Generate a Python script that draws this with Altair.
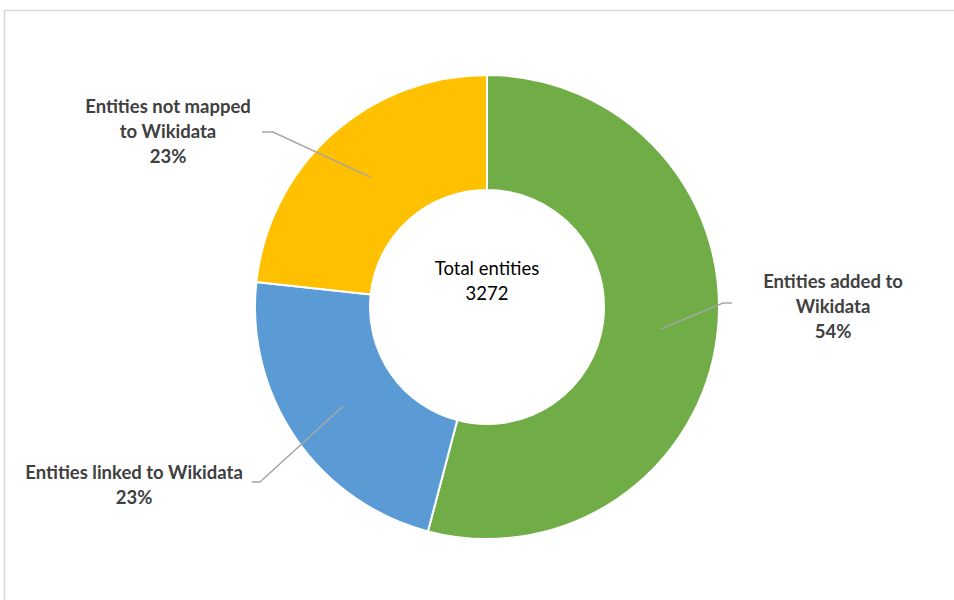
import math
import altair as alt
import pandas as pd

# ---- data ----
categories = ["Entities added to Wikidata", "Entities linked to Wikidata", "Entities not mapped to Wikidata"]
counts = [1770, 740, 762]
colors = ["#70ad47", "#5b9bd5", "#ffc000"]
label_names = ["Entities added to\nWikidata", "Entities linked to Wikidata", "Entities not mapped\nto Wikidata"]
center_title = "Total entities"

# ---- layout ----
W, H = 954, 600
CX, CY = 487, 307
R_IN, R_OUT = 117, 232
label_xy = [(833, 282), (134, 473), (168, 107)]   # first-line centre of each label
leader_end = [(732, 303), (252, 482), (262, 132)]
leader_bend = [(723, 303), (260, 482), (273, 132)]

total = sum(counts)
pcts = [f"{round(100 * c / total)}%" for c in counts]

arc_df = pd.DataFrame({"cat": categories, "value": counts, "idx": list(range(len(categories)))})

# leader lines: start at the middle of each slice
rows = []
cum = 0
r_mid = (R_IN + R_OUT) / 2
for i, c in enumerate(counts):
    mid = (cum + c / 2) / total * 2 * math.pi
    cum += c
    sx = CX + r_mid * math.sin(mid)
    sy = CY - r_mid * math.cos(mid)
    pts = [(sx, sy), leader_bend[i], leader_end[i]]
    for j, (px, py) in enumerate(pts):
        rows.append({"cat": categories[i], "seq": j, "x": px, "y": py})
lead_df = pd.DataFrame(rows)

lab_df = pd.DataFrame({
    "cat": categories,
    "label": [f"{n}\n{p}" for n, p in zip(label_names, pcts)],
    "x": [p[0] for p in label_xy],
    "y": [p[1] for p in label_xy],
})
center_df = pd.DataFrame({"label": [f"{center_title}\n{total}"], "x": [CX], "y": [269]})

arcs = alt.Chart(arc_df).mark_arc(
    innerRadius=R_IN, outerRadius=R_OUT, stroke="white", strokeWidth=2
).encode(
    theta=alt.Theta("value:Q", stack=True),
    color=alt.Color("cat:N", scale=alt.Scale(domain=categories, range=colors), legend=None),
    order=alt.Order("idx:Q"),
    x=alt.value(CX),
    y=alt.value(CY),
)

leaders = alt.Chart(lead_df).mark_line(color="#a6a6a6", strokeWidth=1.5).encode(
    x=alt.X("x:Q", scale=None, axis=None),
    y=alt.Y("y:Q", scale=None, axis=None),
    detail="cat:N",
    order="seq:Q",
)

labels = alt.Chart(lab_df).mark_text(
    lineBreak="\n", font="Lato", fontWeight="bold", fontSize=18.5, lineHeight=25,
    color="#404040", align="center", baseline="middle"
).encode(
    x=alt.X("x:Q", scale=None, axis=None),
    y=alt.Y("y:Q", scale=None, axis=None),
    text="label:N",
)

center = alt.Chart(center_df).mark_text(
    lineBreak="\n", font="Lato", fontSize=18.5, lineHeight=25,
    color="#000000", align="center", baseline="middle"
).encode(
    x=alt.X("x:Q", scale=None, axis=None),
    y=alt.Y("y:Q", scale=None, axis=None),
    text="label:N",
)

frame_df = pd.DataFrame({"k": [0]})
top_rule = alt.Chart(frame_df).mark_rule(color="#d9d9d9", strokeWidth=1.5).encode(
    x=alt.value(4), x2=alt.value(W), y=alt.value(10.5)
)
left_rule = alt.Chart(frame_df).mark_rule(color="#d9d9d9", strokeWidth=1.5).encode(
    x=alt.value(4.5), y=alt.value(10), y2=alt.value(H)
)

chart = alt.layer(top_rule, left_rule, arcs, leaders, labels, center).properties(
    width=W, height=H, autosize=alt.AutoSizeParams(type="none"), padding=0,
    background="white"
).configure_view(stroke=None)

chart.save("out.html", embed_options={"renderer": "svg", "actions": False})
